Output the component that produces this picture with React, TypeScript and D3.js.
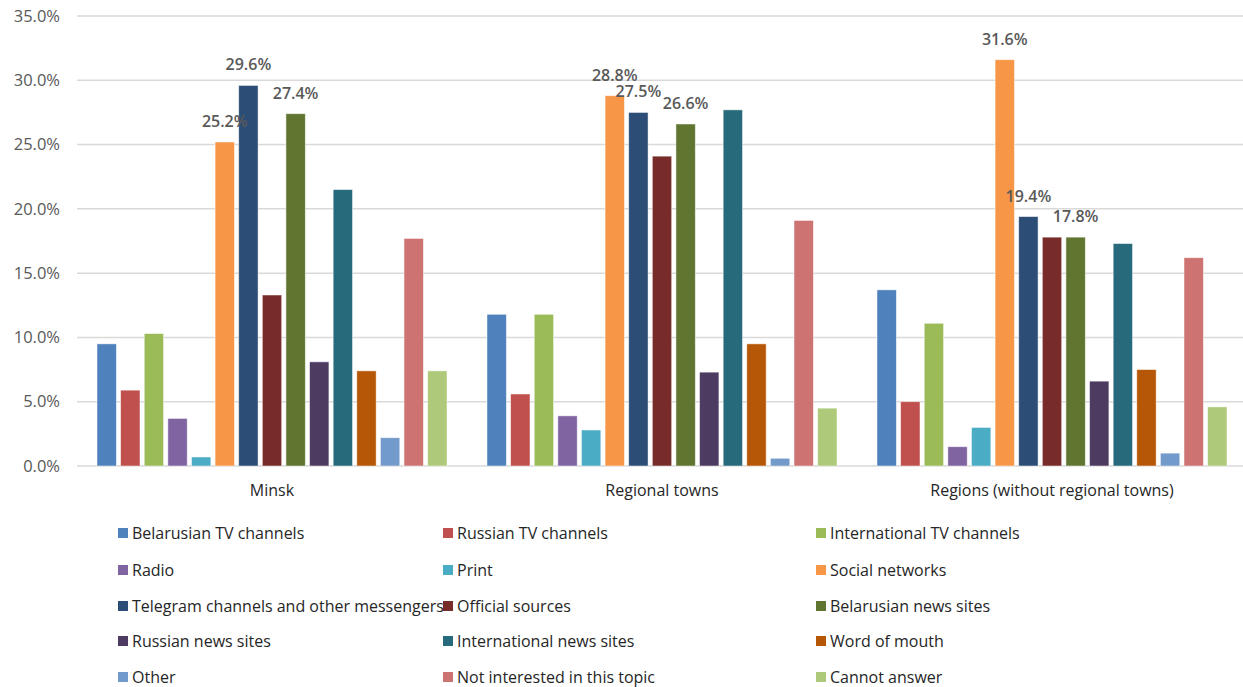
import React from "react";
import * as d3 from "d3";

const groups = ["Minsk", "Regional towns", "Regions (without regional towns)"];

const seriesNames = [
  "Belarusian TV channels",
  "Russian TV channels",
  "International TV channels",
  "Radio",
  "Print",
  "Social networks",
  "Telegram channels and other messengers",
  "Official sources",
  "Belarusian news sites",
  "Russian news sites",
  "International news sites",
  "Word of mouth",
  "Other",
  "Not interested in this topic",
  "Cannot answer",
];

const seriesColors = [
  "#4F81BD", "#C0504D", "#9BBB59", "#8064A2", "#4BACC6",
  "#F79646", "#2C4D75", "#772C2A", "#5F7530", "#4D3B62",
  "#276A7C", "#B65708", "#729ACA", "#CD7371", "#AFC97A",
];

const minskValues = [9.5, 5.9, 10.3, 3.7, 0.7, 25.2, 29.6, 13.3, 27.4, 8.1, 21.5, 7.4, 2.2, 17.7, 7.4];
const regionalTownValues = [11.8, 5.6, 11.8, 3.9, 2.8, 28.8, 27.5, 24.1, 26.6, 7.3, 27.7, 9.5, 0.6, 19.1, 4.5];
const regionValues = [13.7, 5.0, 11.1, 1.5, 3.0, 31.6, 19.4, 17.8, 17.8, 6.6, 17.3, 7.5, 1.0, 16.2, 4.6];

const groupValues = [minskValues, regionalTownValues, regionValues];

// which series carry a value label in each group
const labelledSeries = [5, 6, 8];

const yTicks = [0, 5, 10, 15, 20, 25, 30, 35];

export default function App() {
  const width = 1243;
  const height = 687;
  const plotLeft = 77;
  const plotRight = 1247;
  const plotTop = 16;
  const plotBottom = 466;

  const y = d3.scaleLinear().domain([0, 35]).range([plotBottom, plotTop]);
  const x0 = d3.scaleBand<string>().domain(groups).range([plotLeft, plotRight]).padding(0);
  const groupW = x0.bandwidth();
  const x1 = d3
    .scaleBand<string>()
    .domain(seriesNames)
    .range([20, groupW - 20])
    .paddingInner(0.18)
    .paddingOuter(0);

  const tickFont = "'Open Sans', sans-serif";
  const textFont = "'Open Sans', sans-serif";

  const legendCols = [118, 443, 816];
  const legendRows = [533, 570, 606, 641, 677];

  return (
    <svg width={width} height={height} style={{ position: "absolute", left: 0, top: 0, background: "#fff" }}>
      {yTicks.map((t) => (
        <g key={t}>
          <line x1={plotLeft} x2={width} y1={y(t)} y2={y(t)} stroke="#D9D9D9" strokeWidth={1.5} />
          <text
            x={60}
            y={y(t)}
            dy="0.35em"
            textAnchor="end"
            fontFamily={tickFont}
            fontSize={16.5}
            fill="#595959"
          >
            {t.toFixed(1)}%
          </text>
        </g>
      ))}

      {groups.map((g, gi) => {
        const gx = x0(g) ?? 0;
        return (
          <g key={g} transform={`translate(${gx},0)`}>
            {seriesNames.map((s, si) => {
              const v = groupValues[gi][si];
              const bx = x1(s) ?? 0;
              return (
                <rect
                  key={s}
                  x={bx}
                  y={y(v)}
                  width={x1.bandwidth()}
                  height={plotBottom - y(v)}
                  fill={seriesColors[si]}
                  stroke="#fff"
                  strokeOpacity={0.6}
                  strokeWidth={0.8}
                />
              );
            })}
            {labelledSeries.map((si) => {
              const v = groupValues[gi][si];
              const bx = (x1(seriesNames[si]) ?? 0) + x1.bandwidth() / 2;
              return (
                <text
                  key={si}
                  x={bx}
                  y={y(v) - 15}
                  textAnchor="middle"
                  fontFamily={tickFont}
                  fontSize={16}
                  fontWeight={600}
                  fill="#595959"
                >
                  {v.toFixed(1)}%
                </text>
              );
            })}
            <text
              x={groupW / 2}
              y={490}
              dy="0.35em"
              textAnchor="middle"
              fontFamily={textFont}
              fontSize={16}
              fill="#262626"
            >
              {g}
            </text>
          </g>
        );
      })}

      {seriesNames.map((s, i) => {
        const cx = legendCols[i % 3];
        const cy = legendRows[Math.floor(i / 3)];
        return (
          <g key={s}>
            <rect x={cx} y={cy - 5} width={10} height={10} fill={seriesColors[i]} />
            <text
              x={cx + 14}
              y={cy}
              dy="0.35em"
              fontFamily={textFont}
              fontSize={16}
              fill="#262626"
            >
              {s}
            </text>
          </g>
        );
      })}
    </svg>
  );
}
